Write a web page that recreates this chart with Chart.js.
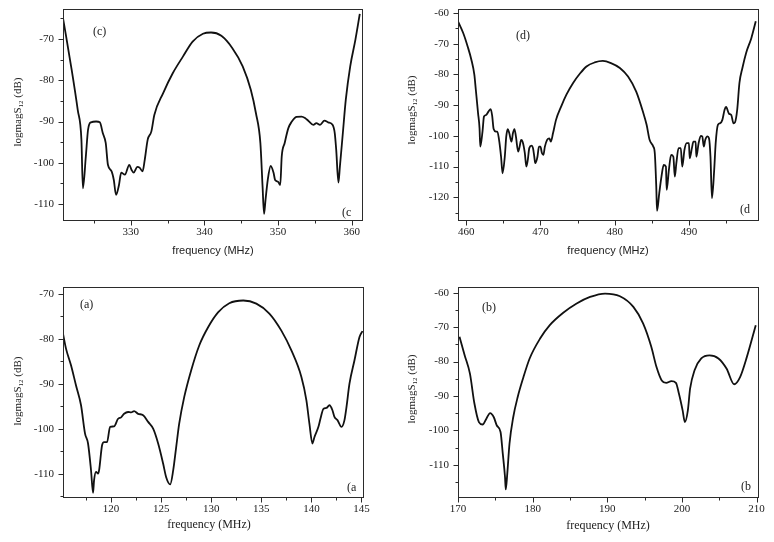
<!DOCTYPE html>
<html>
<head>
<meta charset="utf-8">
<script src="https://cdn.jsdelivr.net/npm/chart.js@4.4.1/dist/chart.umd.min.js"></script>
<style>
    html, body { margin: 0; padding: 0; background: #fff; }
    #wrap { position: relative; width: 774px; height: 542px; overflow: hidden; background: #fff; }
    #wrap canvas { position: absolute; }
</style>
</head>
<body>
<div id="wrap">
    <canvas id="chartC" width="390" height="271" style="left:0;top:0"></canvas>
    <canvas id="chartD" width="384" height="271" style="left:390px;top:0"></canvas>
    <canvas id="chartA" width="390" height="271" style="left:0;top:271px"></canvas>
    <canvas id="chartB" width="384" height="271" style="left:390px;top:271px"></canvas>
</div>
<script>
// panel (c)
var freqC = [320.8, 321.9, 322.8, 323.3, 323.5, 323.9, 324.2, 324.6, 325.3, 325.8, 326.2, 326.6, 326.9,
    327.4, 327.7, 328.0, 328.4, 328.7, 329.2, 329.8, 330.1, 330.4, 330.9, 331.2, 331.6, 331.9, 332.3,
    332.8, 333.2, 334.4, 335.7, 337.1, 338.4, 339.8, 340.9, 342.3, 343.8, 345.2, 346.3, 347.0, 347.6,
    347.9, 348.1, 348.3, 348.6, 349.0, 349.4, 349.6, 350.0, 350.3, 350.5, 350.9, 351.4, 351.8, 352.5,
    353.2, 353.7, 354.1, 354.8, 355.2, 355.7, 356.3, 356.8, 357.4, 357.7, 357.9, 358.2, 358.4, 358.8,
    359.2, 359.8, 360.5, 361.1];
var s12C = [-64.9, -76.6, -87.2, -94.4, -106.2, -98.5, -92.0, -90.2, -90.0, -90.2, -92.8, -95.2, -100.5,
    -102.1, -104.2, -107.8, -105.4, -102.4, -102.9, -100.5, -101.7, -102.4, -101.0, -101.2, -102.1, -99.3, -94.4,
    -92.4, -88.4, -83.1, -78.3, -74.2, -70.6, -68.7, -68.4, -69.2, -72.2, -76.6, -82.3, -88.0, -95.2,
    -105.8, -112.4, -109.0, -104.2, -100.8, -102.5, -104.2, -104.6, -105.4, -98.5, -95.2, -91.6, -90.2, -88.9,
    -88.8, -89.2, -89.8, -90.8, -90.4, -90.8, -89.8, -90.2, -90.8, -92.8, -96.9, -104.8, -100.9, -92.8,
    -84.7, -76.6, -70.2, -63.9];

// panel (d)
var freqD = [458.9, 459.6, 460.2, 460.7, 461.1, 461.3, 461.6, 461.8, 461.9, 462.2, 462.4, 462.7, 463.0,
    463.3, 463.5, 463.7, 464.0, 464.2, 464.4, 464.7, 464.9, 465.2, 465.4, 465.6, 465.8, 466.1, 466.3,
    466.5, 466.7, 467.0, 467.2, 467.4, 467.6, 467.9, 468.1, 468.3, 468.5, 468.8, 469.0, 469.2, 469.3,
    469.6, 469.8, 470.0, 470.2, 470.4, 470.6, 470.9, 471.2, 471.4, 471.7, 472.1, 472.8, 473.5, 474.4,
    475.3, 476.2, 477.3, 478.4, 479.5, 480.7, 481.8, 482.9, 483.8, 484.3, 484.7, 485.2, 485.4, 485.6,
    485.7, 486.0, 486.3, 486.6, 486.9, 487.0, 487.3, 487.6, 487.9, 488.1, 488.3, 488.6, 488.9, 489.1,
    489.4, 489.7, 490.0, 490.1, 490.4, 490.6, 490.9, 491.0, 491.3, 491.6, 491.8, 492.0, 492.2, 492.5,
    492.7, 492.9, 493.1, 493.4, 493.6, 493.9, 494.2, 494.5, 494.8, 495.0, 495.4, 495.7, 496.0, 496.2,
    496.5, 496.8, 497.2, 497.7, 498.4, 499.0];
var s12D = [-62.7, -66.5, -70.9, -75.2, -80.1, -85.0, -92.6, -97.5, -103.5, -98.6, -93.7, -93.2, -92.1,
    -91.3, -93.4, -97.8, -98.6, -98.6, -100.8, -106.8, -112.2, -106.8, -100.2, -97.8, -99.1, -101.9, -99.1,
    -97.8, -100.2, -105.1, -103.5, -101.3, -101.9, -105.6, -110.0, -107.8, -104.0, -103.2, -104.0, -107.3, -108.9,
    -106.8, -103.5, -103.5, -105.6, -106.2, -103.5, -101.3, -100.8, -101.9, -99.1, -94.8, -90.4, -86.6, -82.8,
    -79.8, -77.4, -76.1, -75.6, -76.3, -77.9, -80.7, -85.6, -92.1, -96.4, -101.3, -103.5, -105.6, -116.5,
    -124.4, -118.7, -113.3, -109.5, -110.0, -117.6, -111.1, -106.2, -106.8, -113.3, -109.0, -104.0, -104.0, -110.0,
    -104.5, -102.4, -102.4, -107.3, -104.0, -101.9, -101.9, -106.8, -102.4, -100.0, -100.2, -103.5, -101.3, -100.2,
    -100.8, -106.8, -120.3, -111.1, -102.4, -96.4, -95.9, -94.8, -91.5, -90.6, -92.8, -93.2, -95.9, -95.6,
    -91.5, -82.8, -77.9, -73.0, -68.2, -62.7];

// panel (a)
var freqA = [115.2, 115.5, 116.0, 116.5, 117.0, 117.4, 117.7, 118.0, 118.2, 118.3, 118.5, 118.7, 118.8,
    119.1, 119.3, 119.6, 119.9, 120.3, 120.7, 121.0, 121.3, 121.7, 122.0, 122.3, 122.7, 123.2, 123.7,
    124.2, 124.7, 125.2, 125.5, 125.9, 126.2, 126.5, 126.8, 127.3, 128.0, 128.8, 129.7, 130.7, 131.8,
    133.2, 134.5, 135.8, 137.0, 138.0, 139.0, 139.5, 139.8, 140.1, 140.3, 140.7, 140.9, 141.2, 141.5,
    141.8, 142.1, 142.3, 142.6, 143.0, 143.3, 143.5, 143.8, 144.3, 144.8, 145.1];
var s12A = [-78.9, -82.2, -85.9, -90.4, -94.8, -101.1, -103.3, -109.3, -114.3, -111.5, -109.6, -110.0, -109.3,
    -103.7, -103.0, -103.0, -99.6, -99.5, -97.8, -97.5, -96.7, -96.3, -96.4, -96.1, -96.7, -97.0, -98.5,
    -100.0, -103.3, -107.8, -110.8, -112.4, -109.3, -104.1, -98.9, -93.0, -87.0, -81.5, -77.4, -74.1, -72.1,
    -71.5, -72.2, -74.4, -78.2, -82.6, -88.5, -93.7, -98.9, -103.3, -101.9, -99.6, -97.8, -95.6, -95.4,
    -94.8, -95.9, -97.4, -98.1, -99.6, -98.1, -95.2, -90.0, -84.8, -79.6, -78.3];

// panel (b)
var freqB = [170.2, 170.9, 171.6, 172.2, 172.8, 173.3, 173.8, 174.3, 174.8, 175.2, 175.7, 176.0, 176.3,
    176.4, 176.6, 176.9, 177.4, 178.0, 178.7, 179.6, 181.0, 182.3, 184.1, 185.9, 187.7, 189.7, 191.7,
    193.5, 194.8, 195.9, 196.6, 197.3, 197.9, 198.6, 199.2, 199.6, 200.1, 200.4, 200.8, 201.1, 201.7,
    202.6, 203.7, 204.9, 206.0, 207.0, 207.8, 208.7, 209.9];
var s12B = [-72.8, -78.2, -83.5, -92.2, -97.6, -98.3, -96.6, -95.0, -96.2, -98.6, -100.5, -106.8, -113.6,
    -117.2, -112.7, -103.9, -96.2, -90.3, -85.0, -79.1, -73.3, -69.4, -65.8, -63.1, -61.2, -60.2, -61.0,
    -64.1, -68.9, -75.7, -81.6, -85.5, -86.2, -85.7, -86.2, -89.3, -94.2, -97.6, -94.2, -87.9, -82.5,
    -79.1, -78.2, -79.1, -82.1, -86.6, -84.5, -78.7, -69.4];

var panels = [
    { id: 'chartC', freq: freqC, s12: s12C, w: 390, h: 271, area: [63, 9, 362, 220],
      xMin: 320.8, xMax: 361.4, yMin: -113.9, yMax: -62.7, xMajor: 10, xMinor: 5, yMajor: 10, yMinor: 5,
      xTitleFont: '11px "Liberation Sans", Arial, sans-serif', xTitle: [213, 251], yTitle: [18, 112],
      tag: '(c)', tagPos: [93, 32], tag2: '(c', tag2Pos: [342, 213] },
    { id: 'chartD', freq: freqD, s12: s12D, w: 384, h: 271, area: [68, 9, 368, 220],
      xMin: 458.9, xMax: 499.3, yMin: -127.4, yMax: -58.7, xMajor: 10, xMinor: 5, yMajor: 10, yMinor: 5,
      xTitleFont: '11px "Liberation Sans", Arial, sans-serif', xTitle: [218, 251], yTitle: [22, 110],
      tag: '(d)', tagPos: [126, 36], tag2: '(d', tag2Pos: [350, 210] },
    { id: 'chartA', freq: freqA, s12: s12A, w: 390, h: 271, area: [63, 16, 363, 226],
      xMin: 115.2, xMax: 145.15, yMin: -115.2, yMax: -68.5, xMajor: 5, xMinor: 2.5, yMajor: 10, yMinor: 5,
      xTitleFont: '12px "Liberation Serif", "Times New Roman", serif', xTitle: [209, 254], yTitle: [18, 120],
      tag: '(a)', tagPos: [80, 34], tag2: '(a', tag2Pos: [347, 217] },
    { id: 'chartB', freq: freqB, s12: s12B, w: 384, h: 271, area: [68, 16, 368, 226],
      xMin: 170, xMax: 210.2, yMin: -119.4, yMax: -58.3, xMajor: 10, xMinor: 5, yMajor: 10, yMinor: 5,
      xTitleFont: '12px "Liberation Serif", "Times New Roman", serif', xTitle: [218, 255], yTitle: [22, 118],
      tag: '(b)', tagPos: [92, 37], tag2: '(b', tag2Pos: [351, 216] }
];

var serif = '"Liberation Serif", "Times New Roman", serif';

function isMultiple(v, step) {
    var r = Math.abs(v / step - Math.round(v / step));
    return r < 1e-6;
}

var framePlugin = {
    id: 'frame',
    afterDraw: function (chart) {
        var p = chart.options.plugins.frame.panel;
        var ctx = chart.ctx;
        var a = chart.chartArea;
        var xs = chart.scales.x;
        var ys = chart.scales.y;
        var i, v, px, len, n;

        ctx.save();
        ctx.strokeStyle = '#2b2b2b';
        ctx.lineWidth = 1;
        ctx.strokeRect(Math.round(a.left) + 0.5, Math.round(a.top) + 0.5,
            Math.round(a.right - a.left), Math.round(a.bottom - a.top));

        ctx.beginPath();
        n = Math.ceil(xs.min / p.xMinor);
        for (i = n; i * p.xMinor <= xs.max + 1e-9; i++) {
            v = i * p.xMinor;
            px = Math.round(xs.getPixelForValue(v)) + 0.5;
            len = isMultiple(v, p.xMajor) ? 5 : 3;
            ctx.moveTo(px, Math.round(a.bottom) + 0.5);
            ctx.lineTo(px, Math.round(a.bottom) + 0.5 + len);
        }
        n = Math.ceil(ys.min / p.yMinor);
        for (i = n; i * p.yMinor <= ys.max + 1e-9; i++) {
            v = i * p.yMinor;
            px = Math.round(ys.getPixelForValue(v)) + 0.5;
            len = isMultiple(v, p.yMajor) ? 5 : 3;
            ctx.moveTo(Math.round(a.left) + 0.5, px);
            ctx.lineTo(Math.round(a.left) + 0.5 - len, px);
        }
        ctx.stroke();

        ctx.fillStyle = '#222';

        // x title
        ctx.font = p.xTitleFont;
        ctx.textAlign = 'center';
        ctx.textBaseline = 'middle';
        ctx.fillText('frequency (MHz)', p.xTitle[0], p.xTitle[1]);

        // y title with subscript, rotated
        var big = '11px ' + serif;
        var small = '7px ' + serif;
        ctx.font = big;
        var w1 = ctx.measureText('logmagS').width;
        var w3 = ctx.measureText(' (dB)').width;
        ctx.font = small;
        var w2 = ctx.measureText('12').width;
        var total = w1 + w2 + w3;
        ctx.translate(p.yTitle[0], p.yTitle[1]);
        ctx.rotate(-Math.PI / 2);
        ctx.textAlign = 'left';
        ctx.textBaseline = 'middle';
        ctx.font = big;
        ctx.fillText('logmagS', -total / 2, 0);
        ctx.font = small;
        ctx.fillText('12', -total / 2 + w1, 3);
        ctx.font = big;
        ctx.fillText(' (dB)', -total / 2 + w1 + w2, 0);
        ctx.setTransform(1, 0, 0, 1, 0, 0);

        // panel tags
        ctx.font = '12px ' + serif;
        ctx.textAlign = 'left';
        ctx.textBaseline = 'middle';
        ctx.fillText(p.tag, p.tagPos[0], p.tagPos[1]);
        ctx.fillText(p.tag2, p.tag2Pos[0], p.tag2Pos[1]);
        ctx.restore();
    }
};

panels.forEach(function (p) {
    var canvas = document.getElementById(p.id);
    var points = p.freq.map(function (f, i) { return { x: f, y: p.s12[i] }; });
    var areaLeft = p.area[0], areaTop = p.area[1], areaRight = p.area[2], areaBottom = p.area[3];

    new Chart(canvas.getContext('2d'), {
        type: 'line',
        data: {
            datasets: [{
                data: points,
                borderColor: '#111',
                borderWidth: 1.8,
                pointRadius: 0,
                fill: false,
                cubicInterpolationMode: 'monotone'
            }]
        },
        options: {
            responsive: false,
            animation: false,
            devicePixelRatio: 1,
            layout: { padding: { top: areaTop, right: p.w - areaRight, bottom: 0, left: 0 } },
            plugins: {
                legend: { display: false },
                tooltip: { enabled: false },
                frame: { panel: p }
            },
            scales: {
                x: {
                    type: 'linear',
                    min: p.xMin,
                    max: p.xMax,
                    grid: { display: false, drawTicks: false },
                    border: { display: false },
                    ticks: {
                        stepSize: p.xMajor,
                        includeBounds: false,
                        padding: 6,
                        maxRotation: 0,
                        autoSkip: false,
                        color: '#222',
                        font: { size: 11, family: serif },
                        callback: function (v) { return String(v); }
                    },
                    afterFit: function (s) {
                        s.height = p.h - areaBottom;
                        s.paddingLeft = 0;
                        s.paddingRight = 0;
                    }
                },
                y: {
                    min: p.yMin,
                    max: p.yMax,
                    grid: { display: false, drawTicks: false },
                    border: { display: false },
                    ticks: {
                        stepSize: p.yMajor,
                        includeBounds: false,
                        padding: 9,
                        autoSkip: false,
                        color: '#222',
                        font: { size: 11, family: serif },
                        callback: function (v) { return String(v); }
                    },
                    afterFit: function (s) {
                        s.width = areaLeft;
                        s.paddingTop = 0;
                        s.paddingBottom = 0;
                    }
                }
            }
        },
        plugins: [framePlugin]
    });
});
</script>
</body>
</html>
